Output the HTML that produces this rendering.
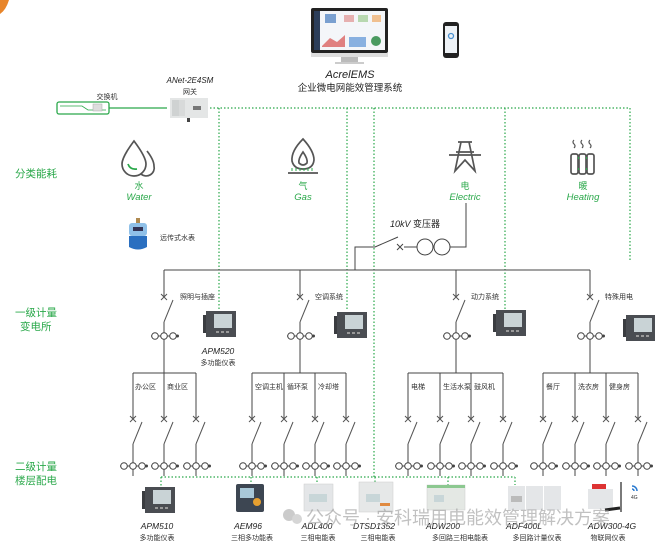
<!DOCTYPE html>
<html><head><meta charset="utf-8"><style>
html,body{margin:0;padding:0;background:#fff;}
svg{display:block;font-family:"Liberation Sans","Noto Sans CJK SC",sans-serif;}
.g{fill:#2aa84a}
.t{fill:#333;font-size:7px}
.it{font-style:italic}
</style></head><body>
<svg width="655" height="546" viewBox="0 0 655 546" xmlns="http://www.w3.org/2000/svg">
<defs>
<g id="sw" stroke="#555" stroke-width="1" fill="none">
<path d="M-3,-3L3,3M-3,3L3,-3"/><path d="M0,25L9,3"/>
</g>
<g id="ct" stroke="#444" stroke-width="1" fill="#fff">
<line x1="-13" y1="0" x2="13" y2="0"/>
<circle cx="-9" cy="0" r="3.3"/><circle cx="0" cy="0" r="3.3"/><circle cx="9" cy="0" r="3.3"/>
<circle cx="13.5" cy="0" r="1" fill="#444"/>
</g>
<g id="apm">
<rect x="0" y="0" width="30" height="26" fill="#4a4d52"/>
<rect x="-3" y="4" width="3" height="18" fill="#3a3c40"/>
<rect x="8" y="3" width="18" height="14" fill="#c9d3d6"/>
<rect x="10" y="20" width="3" height="2" fill="#999"/><rect x="15" y="20" width="3" height="2" fill="#999"/><rect x="20" y="20" width="3" height="2" fill="#999"/>
</g>
</defs>

<path d="M0,0 L9,0 Q6,10 0,14 Z" fill="#e8852a"/>

<!-- monitor -->
<rect x="311" y="8" width="77" height="45" rx="2" fill="#222"/>
<rect x="314" y="11" width="71" height="39" fill="#f4f6f9"/>
<rect x="314" y="11" width="6" height="39" fill="#2c3e5a"/>
<rect x="325" y="14" width="11" height="9" fill="#7aa0d0"/><rect x="344" y="15" width="10" height="7" fill="#e6b0b0"/><rect x="358" y="15" width="10" height="7" fill="#b8d8b0"/><rect x="372" y="15" width="9" height="7" fill="#f0c090"/>
<path d="M322,46 L330,38 L337,42 L345,35 L345,47 L322,47Z" fill="#e08080"/>
<rect x="349" y="37" width="17" height="10" fill="#88b0e0"/>
<circle cx="376" cy="41" r="5" fill="#4a9a60"/>
<rect x="311" y="53" width="77" height="4" fill="#ddd"/>
<rect x="341" y="57" width="17" height="5" fill="#bbb"/>
<rect x="335" y="62" width="29" height="2" fill="#ccc"/>
<!-- phone -->
<rect x="443" y="22" width="16" height="36" rx="3" fill="#222"/>
<rect x="445" y="26" width="12" height="27" fill="#eef2f6"/>
<circle cx="451" cy="36" r="2.5" fill="none" stroke="#4a90d0" stroke-width="1.3"/>
<text x="350" y="78" text-anchor="middle" class="it" font-size="11" fill="#222">AcrelEMS</text>
<text x="350" y="91" text-anchor="middle" font-size="9.5" fill="#222">企业微电网能效管理系统</text>

<!-- switch & gateway -->
<text x="107" y="99" text-anchor="middle" class="t">交换机</text>
<rect x="57" y="102" width="52" height="12" rx="2" fill="#fff" stroke="#2aa84a" stroke-width="1.3"/>
<path d="M60,106 H82 L88,110 H106" stroke="#2aa84a" fill="none" stroke-width="0.8"/>
<rect x="93" y="104" width="9" height="7" fill="#ddd" stroke="#aaa" stroke-width="0.5"/>
<line x1="109" y1="108" x2="167" y2="108" stroke="#2aa84a" stroke-width="1.2"/>
<text x="190" y="83" text-anchor="middle" class="it" font-size="8" fill="#222">ANet-2E4SM</text>
<text x="190" y="94" text-anchor="middle" class="t">网关</text>
<rect x="170" y="98" width="38" height="20" fill="#e4e6e6"/>
<rect x="172" y="100" width="7" height="16" fill="#cfd2d2"/><rect x="179" y="100" width="6" height="16" fill="#d8dada"/>
<rect x="193" y="106" width="8" height="4" fill="#777"/>
<rect x="187" y="118" width="3" height="4" fill="#444"/>

<g stroke="#2aa84a" stroke-width="1.2" stroke-dasharray="1.5 2" fill="none">
<path d="M210,108 H630 V260"/>
<path d="M219,108 V313"/>
<path d="M347,108 V310"/>
<path d="M374,108 V477"/>
<path d="M505,108 V310"/>
<path d="M161,477 H515"/>
<path d="M161,477 V487 M251,477 V484 M317,477 V484 M375,477 V482 M448,477 V485 M515,477 V485"/>
</g>

<text x="15" y="177" class="g" font-size="10.5">分类能耗</text>
<text x="15" y="316" class="g" font-size="10.5">一级计量</text>
<text x="20" y="330" class="g" font-size="10.5">变电所</text>
<text x="15" y="470" class="g" font-size="10.5">二级计量</text>
<text x="15" y="484" class="g" font-size="10.5">楼层配电</text>

<g fill="none" stroke="#555" stroke-width="1.7">
<path d="M134,141 Q122,157 122,164 A11,11 0 0 0 146,164 Q146,157 134,141Z"/>
<path d="M147,151 Q154,160 154,166 A8,8 0 0 1 141,174"/>
<path d="M303,139 Q291,151 292,161 Q294,169 303,169 Q313,169 314,160 Q314,151 303,139Z"/>
<path d="M303,152 Q298,159 299,163 Q303,167 307,163 Q308,159 303,152Z"/>
<line x1="288" y1="173" x2="318" y2="173"/>
<path d="M458,142 H472 M456,152 H474 M449,155 H481 M461,142 L455,171 L465,160 L475,171 L469,142"/>
<rect x="571" y="154" width="7" height="20" rx="2"/><rect x="579" y="154" width="7" height="20" rx="2"/><rect x="587" y="154" width="7" height="20" rx="2"/>
<path d="M574,140 q-2,2 0,4 q2,2 0,4 M582,140 q-2,2 0,4 q2,2 0,4 M590,140 q-2,2 0,4 q2,2 0,4" stroke-width="1.2"/>
</g>
<path d="M128,164 Q130,170 137,169" stroke="#2aa84a" stroke-width="1.7" fill="none"/>
<path d="M292,171 V168 M296,171 V168 M300,171 V168 M304,171 V168 M308,171 V168 M312,171 V168" stroke="#2aa84a" stroke-width="1"/>
<path d="M578,158 H579 M578,169 H579 M586,158 H587 M586,169 H587" stroke="#2aa84a" stroke-width="2"/>
<g class="g" text-anchor="middle">
<text x="139" y="189" font-size="9">水</text><text x="139" y="200" font-size="9.5" class="it">Water</text>
<text x="303" y="189" font-size="9">气</text><text x="303" y="200" font-size="9.5" class="it">Gas</text>
<text x="465" y="189" font-size="9">电</text><text x="465" y="200" font-size="9.5" class="it">Electric</text>
<text x="583" y="189" font-size="9">暖</text><text x="583" y="200" font-size="9.5" class="it">Heating</text>
</g>

<rect x="136" y="218" width="4" height="6" fill="#b08a50"/>
<rect x="129" y="223" width="18" height="13" rx="3" fill="#8fc0e8"/>
<rect x="133" y="227" width="10" height="4" fill="#335"/>
<path d="M129,236 H147 V247 Q138,252 129,247Z" fill="#2a6fc0"/>
<text x="160" y="240" class="t">远传式水表</text>

<text x="390" y="227" font-size="9" fill="#222"><tspan class="it">10kV</tspan> 变压器</text>
<g stroke="#444" stroke-width="1" fill="none">
<path d="M466,203 V247 H450"/>
<circle cx="425" cy="247" r="8"/><circle cx="442" cy="247" r="8"/>
<path d="M417,247 H404 M397,244 L403,250 M397,250 L403,244"/>
<path d="M398,237 L375,247 H355 V270"/>
<path d="M164,270 H590 M164,270 V297 M300,270 V297 M456,270 V297 M590,270 V297"/>
<path d="M164,322 V373 M300,322 V373 M456,322 V373 M590,322 V373"/>
<path d="M133,373 H196 M252,373 H346 M408,373 H503 M543,373 H638"/>
<path d="M133,373 V419 M164,373 V419 M196,373 V419 M252,373 V419 M284,373 V419 M315,373 V419 M346,373 V419 M408,373 V419 M440,373 V419 M471,373 V419 M503,373 V419 M543,373 V419 M575,373 V419 M606,373 V419 M638,373 V419"/>
<path d="M133,444 V476 M164,444 V476 M196,444 V476 M252,444 V476 M284,444 V476 M315,444 V476 M346,444 V476 M408,444 V476 M440,444 V476 M471,444 V476 M503,444 V476 M543,444 V476 M575,444 V476 M606,444 V476 M638,444 V476"/>
</g>
<use href="#sw" x="164" y="297"/><use href="#sw" x="300" y="297"/><use href="#sw" x="456" y="297"/><use href="#sw" x="590" y="297"/>
<use href="#ct" x="164" y="336"/><use href="#ct" x="300" y="336"/><use href="#ct" x="456" y="336"/><use href="#ct" x="590" y="336"/>
<g>
<use href="#sw" x="133" y="419"/><use href="#sw" x="164" y="419"/><use href="#sw" x="196" y="419"/>
<use href="#sw" x="252" y="419"/><use href="#sw" x="284" y="419"/><use href="#sw" x="315" y="419"/><use href="#sw" x="346" y="419"/>
<use href="#sw" x="408" y="419"/><use href="#sw" x="440" y="419"/><use href="#sw" x="471" y="419"/><use href="#sw" x="503" y="419"/>
<use href="#sw" x="543" y="419"/><use href="#sw" x="575" y="419"/><use href="#sw" x="606" y="419"/><use href="#sw" x="638" y="419"/>
<use href="#ct" x="133" y="466"/><use href="#ct" x="164" y="466"/><use href="#ct" x="196" y="466"/>
<use href="#ct" x="252" y="466"/><use href="#ct" x="284" y="466"/><use href="#ct" x="315" y="466"/><use href="#ct" x="346" y="466"/>
<use href="#ct" x="408" y="466"/><use href="#ct" x="440" y="466"/><use href="#ct" x="471" y="466"/><use href="#ct" x="503" y="466"/>
<use href="#ct" x="543" y="466"/><use href="#ct" x="575" y="466"/><use href="#ct" x="606" y="466"/><use href="#ct" x="638" y="466"/>
</g>
<g class="t">
<text x="180" y="299">照明与插座</text><text x="315" y="299">空调系统</text><text x="471" y="299">动力系统</text><text x="605" y="299">特殊用电</text>
<text x="135" y="389">办公区</text><text x="167" y="389">商业区</text>
<text x="255" y="389">空调主机</text><text x="287" y="389">循环泵</text><text x="318" y="389">冷却塔</text>
<text x="411" y="389">电梯</text><text x="443" y="389">生活水泵</text><text x="474" y="389">鼓风机</text>
<text x="546" y="389">餐厅</text><text x="578" y="389">洗衣房</text><text x="609" y="389">健身房</text>
</g>
<use href="#apm" x="206" y="311"/><use href="#apm" x="337" y="312"/><use href="#apm" x="496" y="310"/><use href="#apm" x="626" y="315"/>
<text x="218" y="354" text-anchor="middle" class="it" font-size="8.5" fill="#222">APM520</text>
<text x="218" y="365" text-anchor="middle" class="t">多功能仪表</text>

<use href="#apm" x="145" y="487"/>
<rect x="236" y="484" width="28" height="28" rx="2" fill="#3d4652"/><rect x="240" y="488" width="14" height="10" fill="#a9c8d8"/><circle cx="257" cy="502" r="4" fill="#e7a030"/>
<rect x="304" y="484" width="29" height="27" fill="#e4e6e8" stroke="#ccc" stroke-width="0.5"/><rect x="309" y="494" width="18" height="8" fill="#c8d6d8"/>
<rect x="359" y="482" width="34" height="30" fill="#e6e8e8" stroke="#ccc" stroke-width="0.5"/><rect x="366" y="494" width="14" height="8" fill="#c8d6d8"/><rect x="380" y="503" width="10" height="3" fill="#e08a40"/>
<rect x="427" y="485" width="38" height="25" fill="#e4e8e4" stroke="#ccc" stroke-width="0.5"/><rect x="427" y="485" width="38" height="3" fill="#8cc890"/><rect x="434" y="495" width="10" height="7" fill="#c8d6d8"/>
<rect x="508" y="486" width="17" height="24" fill="#e4e6e8"/><rect x="526" y="486" width="17" height="24" fill="#e4e6e8"/><rect x="544" y="486" width="17" height="24" fill="#e4e6e8"/><rect x="511" y="496" width="11" height="6" fill="#bbb"/>
<rect x="588" y="489" width="25" height="20" fill="#e4e6e8"/><rect x="592" y="484" width="14" height="5" fill="#d33"/>
<path d="M605,510 L620,508" stroke="#222" stroke-width="3"/><line x1="621" y1="482" x2="621" y2="512" stroke="#222" stroke-width="1.2"/>
<path d="M632,486 a5,5 0 0 1 5,5 M632,489 a2,2 0 0 1 2,2" stroke="#2a7ad0" stroke-width="1.5" fill="none"/>
<text x="631" y="499" font-size="5" fill="#333">4G</text>
<g text-anchor="middle">
<text x="157" y="529" class="it" font-size="8.5" fill="#222">APM510</text><text x="157" y="540" class="t">多功能仪表</text>
<text x="248" y="529" class="it" font-size="8.5" fill="#222">AEM96</text><text x="252" y="540" class="t">三相多功能表</text>
<text x="317" y="529" class="it" font-size="8.5" fill="#222">ADL400</text><text x="318" y="540" class="t">三相电能表</text>
<text x="374" y="529" class="it" font-size="8.5" fill="#222">DTSD1352</text><text x="378" y="540" class="t">三相电能表</text>
<text x="443" y="529" class="it" font-size="8.5" fill="#222">ADW200</text><text x="460" y="540" class="t">多回路三相电能表</text>
<text x="524" y="529" class="it" font-size="8.5" fill="#222">ADF400L</text><text x="537" y="540" class="t">多回路计量仪表</text>
<text x="612" y="529" class="it" font-size="8.5" fill="#222">ADW300-4G</text><text x="608" y="540" class="t">物联网仪表</text>
</g>
<g opacity="0.6">
<circle cx="289" cy="515" r="6" fill="#aaa"/><circle cx="297" cy="519" r="5" fill="#bbb"/>
<text x="306" y="524" font-size="18" fill="#999">公众号 · 安科瑞用电能效管理解决方案</text>
</g>
</svg>
</body></html>
